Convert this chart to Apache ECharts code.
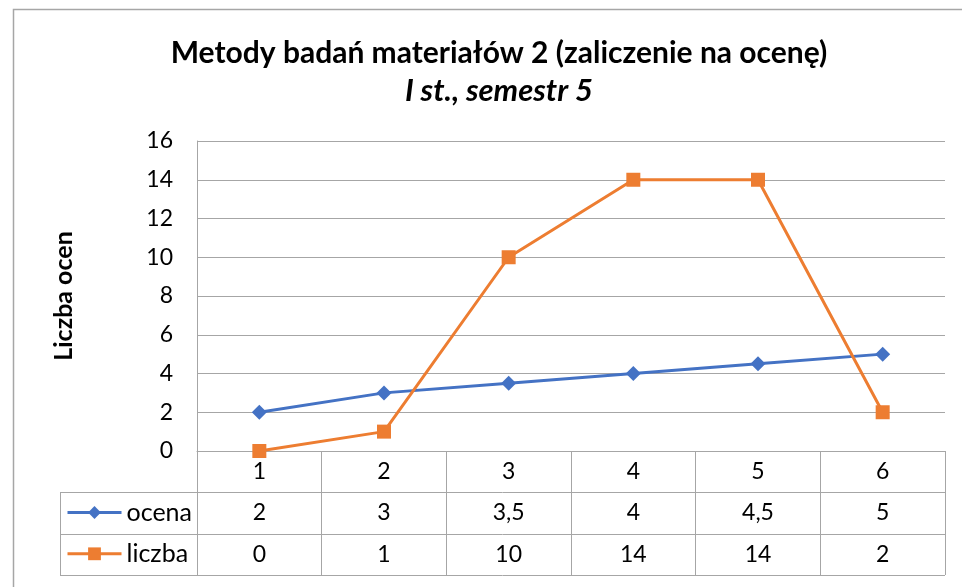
<!DOCTYPE html>
<html>
<head>
<meta charset="utf-8">
<script src="https://cdn.jsdelivr.net/npm/echarts@6/dist/echarts.min.js"></script>
<style>
  html, body { margin: 0; padding: 0; background: #fff; }
  #chart { width: 962px; height: 587px; }
</style>
</head>
<body>
<div id="chart"></div>
<script>
// Grade categories and the two series shown in the chart and its data table
const categories = ['1', '2', '3', '4', '5', '6'];
const ocena = [2, 3, 3.5, 4, 4.5, 5];
const liczba = [0, 1, 10, 14, 14, 2];
const seriesNames = ['ocena', 'liczba'];
const yTicks = { min: 0, max: 16, interval: 2 };

const FONT = 'Lato, "Open Sans", sans-serif';
const GRID = { left: 197, right: 17, top: 141, bottom: 136 };
const ROW_H = 41.3;          // height of one data-table row
const TABLE_LEFT = 60;       // left edge of the legend column
const TITLE_X = 494;         // horizontal centre of the title block
const LINE_GRAY = '#A6A6A6';
const W = 962, H = 587;
const NUM_SIZE = 23;

// Polish decimal comma for the table cells
const fmt = v => String(v).replace('.', ',');

const chart = echarts.init(document.getElementById('chart'), null, { renderer: 'canvas' });

const axisY = H - GRID.bottom;
const plotRight = W - GRID.right;

// Horizontal table rules and the left edge of the legend column
const tableGraphics = [];
for (let r = 1; r <= 3; r++) {
  const y = Math.round(axisY + r * ROW_H) + 0.5;
  tableGraphics.push({
    type: 'line', silent: true,
    shape: { x1: TABLE_LEFT, y1: y, x2: plotRight, y2: y },
    style: { stroke: LINE_GRAY, lineWidth: 1 }
  });
}
tableGraphics.push({
  type: 'line', silent: true,
  shape: { x1: TABLE_LEFT + 0.5, y1: Math.round(axisY + ROW_H), x2: TABLE_LEFT + 0.5, y2: Math.round(axisY + 3 * ROW_H) + 1 },
  style: { stroke: LINE_GRAY, lineWidth: 1 }
});
// Chart-area frame
tableGraphics.push({
  type: 'rect', silent: true,
  shape: { x: 13.5, y: 9.5, width: W, height: H },
  style: { fill: null, stroke: '#A6A6A6', lineWidth: 1.5 }
});

const tableRowAxis = (labels, row) => ({
  type: 'category',
  data: labels,
  position: 'bottom',
  offset: row * ROW_H,
  boundaryGap: true,
  axisLine: { show: false },
  axisTick: { show: false },
  axisLabel: { color: '#000', fontSize: NUM_SIZE, fontFamily: FONT, margin: 9, interval: 0 }
});

chart.setOption({
  backgroundColor: '#fff',
  animation: false,
  title: [
    {
      text: 'Metody badań materiałów 2 (zaliczenie na ocenę)',
      left: TITLE_X, top: 33, textAlign: 'center',
      textStyle: { fontSize: 30, fontWeight: 'bold', color: '#000', fontFamily: FONT }
    },
    {
      text: 'I st., semestr 5',
      left: TITLE_X, top: 70, textAlign: 'center',
      textStyle: { fontSize: 31, fontWeight: 'bold', fontStyle: 'italic', color: '#000', fontFamily: FONT }
    }
  ],
  legend: {
    orient: 'vertical',
    left: 66, top: 500,
    padding: 0,
    itemWidth: 54, itemHeight: 16,
    itemGap: 16.3,
    data: seriesNames,
    lineStyle: { width: 3 },
    textStyle: { fontSize: 25, color: '#000', fontFamily: FONT, lineHeight: 25 }
  },
  grid: GRID,
  xAxis: [
    {
      type: 'category',
      data: categories,
      boundaryGap: true,
      axisLine: { show: true, lineStyle: { color: LINE_GRAY, width: 1 } },
      axisTick: { show: true, length: Math.round(3 * ROW_H), interval: 0, lineStyle: { color: LINE_GRAY, width: 1 } },
      axisLabel: { color: '#000', fontSize: NUM_SIZE, fontFamily: FONT, margin: 9, interval: 0 },
      splitLine: { show: false }
    },
    tableRowAxis(ocena.map(fmt), 1),
    tableRowAxis(liczba.map(fmt), 2)
  ],
  yAxis: {
    type: 'value',
    min: yTicks.min, max: yTicks.max, interval: yTicks.interval,
    name: 'Liczba ocen',
    nameLocation: 'middle',
    nameGap: 121,
    nameTextStyle: { fontSize: 25, fontWeight: 'bold', color: '#000', fontFamily: FONT },
    axisLine: { show: true, lineStyle: { color: LINE_GRAY, width: 1 } },
    axisTick: { show: false },
    axisLabel: { color: '#000', fontSize: NUM_SIZE, fontFamily: FONT, margin: 24 },
    splitLine: { show: true, lineStyle: { color: LINE_GRAY, width: 1 } }
  },
  series: [
    {
      name: seriesNames[0],
      type: 'line',
      data: ocena,
      symbol: 'diamond', symbolSize: 15,
      itemStyle: { color: '#4472C4' },
      lineStyle: { color: '#4472C4', width: 3 },
      z: 3
    },
    {
      name: seriesNames[1],
      type: 'line',
      data: liczba,
      symbol: 'rect', symbolSize: 14,
      itemStyle: { color: '#ED7D31' },
      lineStyle: { color: '#ED7D31', width: 3 },
      z: 4
    }
  ],
  graphic: tableGraphics
});
</script>
</body>
</html>
